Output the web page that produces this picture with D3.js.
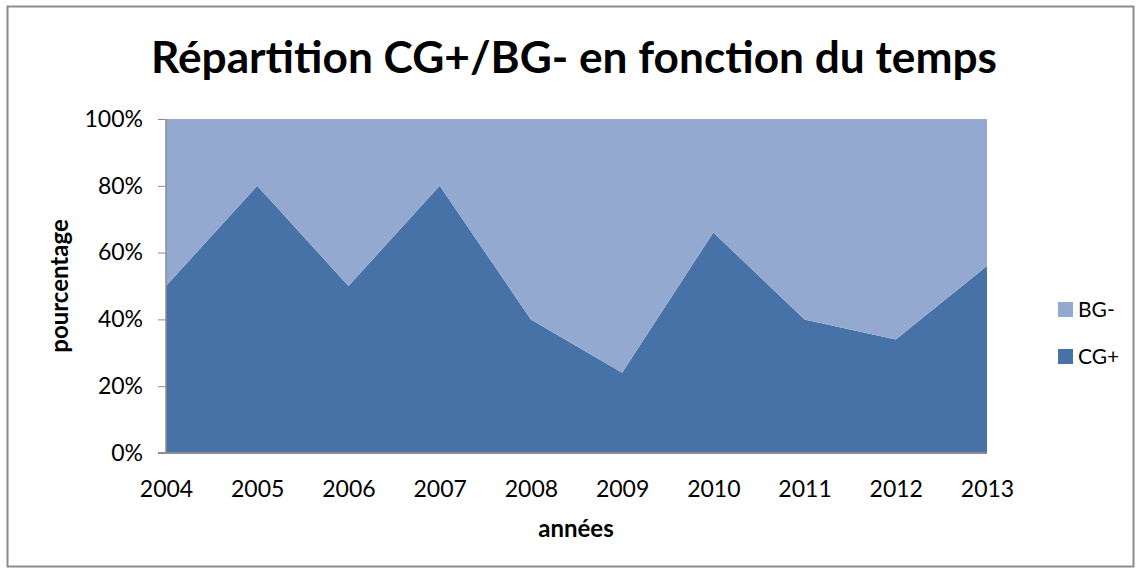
<!DOCTYPE html>
<html>
<head>
<meta charset="utf-8">
<script src="https://cdn.jsdelivr.net/npm/d3@7"></script>
<style>
  body { margin: 0; background: #fff; }
  text { font-family: Lato, "Open Sans", sans-serif; fill: #000; }
</style>
</head>
<body>
<div class="chart"></div>
<script>
// data
var years = ["2004", "2005", "2006", "2007", "2008", "2009", "2010", "2011", "2012", "2013"];
var cgPlus = [50, 80, 50, 80, 40, 24, 66, 40, 34, 56];
var bgMinus = [50, 20, 50, 20, 60, 76, 34, 60, 66, 44];
var seriesNames = ["CG+", "BG-"];
var yTicks = [0, 20, 40, 60, 80, 100];

var svgWidth = 1142;
var svgHeight = 572;
var margin = { top: 119, right: 155, bottom: 119, left: 166 };
var width = 987 - margin.left;
var height = 453 - margin.top;

var colors = { "CG+": "#4672a8", "BG-": "#94a9cf" };

var svg = d3.select(".chart")
  .append("svg")
  .attr("width", svgWidth)
  .attr("height", svgHeight);

// outer frame
svg.append("rect")
  .attr("x", 7.5).attr("y", 6.5)
  .attr("width", 1126).attr("height", 560)
  .attr("fill", "none")
  .attr("stroke", "#8c8c8c")
  .attr("stroke-width", 2);

var chartGroup = svg.append("g")
  .attr("transform", `translate(${margin.left}, ${margin.top})`);

var table = years.map(function (y, i) {
  return { year: y, "CG+": cgPlus[i], "BG-": bgMinus[i] };
});

var stack = d3.stack().keys(seriesNames).offset(d3.stackOffsetExpand);
var stacked = stack(table);

var x = d3.scalePoint().domain(years).range([0, width]);
var y = d3.scaleLinear().domain([0, 1]).range([height, 0]);

var area = d3.area()
  .x(d => x(d.data.year))
  .y0(d => y(d[0]))
  .y1(d => y(d[1]));

chartGroup.selectAll("path.layer")
  .data(stacked)
  .enter()
  .append("path")
  .attr("class", "layer")
  .attr("d", area)
  .attr("fill", d => colors[d.key]);

// y axis
var leftAxis = d3.axisLeft(y)
  .tickValues(yTicks.map(v => v / 100))
  .tickFormat(d => Math.round(d * 100) + "%")
  .tickSize(8)
  .tickPadding(15);

var yAxisG = chartGroup.append("g").call(leftAxis);
yAxisG.select(".domain").attr("stroke", "#8c8c8c").attr("stroke-width", 1.5).attr("d", `M0,0V${height}`);
yAxisG.selectAll(".tick line").attr("stroke", "#8c8c8c");
yAxisG.selectAll(".tick text")
  .attr("font-size", 23)
  .attr("font-family", "Lato, sans-serif")
  .attr("fill", "#000");

// x axis
var bottomAxis = d3.axisBottom(x).tickSize(0).tickPadding(28);
var xAxisG = chartGroup.append("g")
  .attr("transform", `translate(0,${height})`)
  .call(bottomAxis);
xAxisG.select(".domain").attr("stroke", "#8c8c8c").attr("stroke-width", 2).attr("d", `M-8,0H${width}`);
xAxisG.selectAll(".tick text")
  .attr("font-size", 23)
  .attr("font-family", "Lato, sans-serif")
  .attr("fill", "#000");

// title
svg.append("text")
  .attr("x", 574)
  .attr("y", 73)
  .attr("text-anchor", "middle")
  .attr("font-size", 43)
  .attr("font-weight", "bold")
  .attr("textLength", 846)
  .attr("lengthAdjust", "spacingAndGlyphs")
  .text("Répartition CG+/BG- en fonction du temps");

// axis titles
svg.append("text")
  .attr("transform", "translate(68, 286) rotate(-90)")
  .attr("text-anchor", "middle")
  .attr("font-size", 24)
  .attr("font-weight", "bold")
  .text("pourcentage");

svg.append("text")
  .attr("x", 576)
  .attr("y", 537)
  .attr("text-anchor", "middle")
  .attr("font-size", 24)
  .attr("font-weight", "bold")
  .text("années");

// legend
var legendOrder = ["BG-", "CG+"];
var legend = svg.selectAll("g.legend")
  .data(legendOrder)
  .enter()
  .append("g")
  .attr("class", "legend")
  .attr("transform", (d, i) => `translate(1058, ${302 + i * 47})`);

legend.append("rect")
  .attr("width", 15).attr("height", 15)
  .attr("fill", d => colors[d]);

legend.append("text")
  .attr("x", 20)
  .attr("y", 15)
  .attr("font-size", 21)
  .text(d => d);
</script>
</body>
</html>
